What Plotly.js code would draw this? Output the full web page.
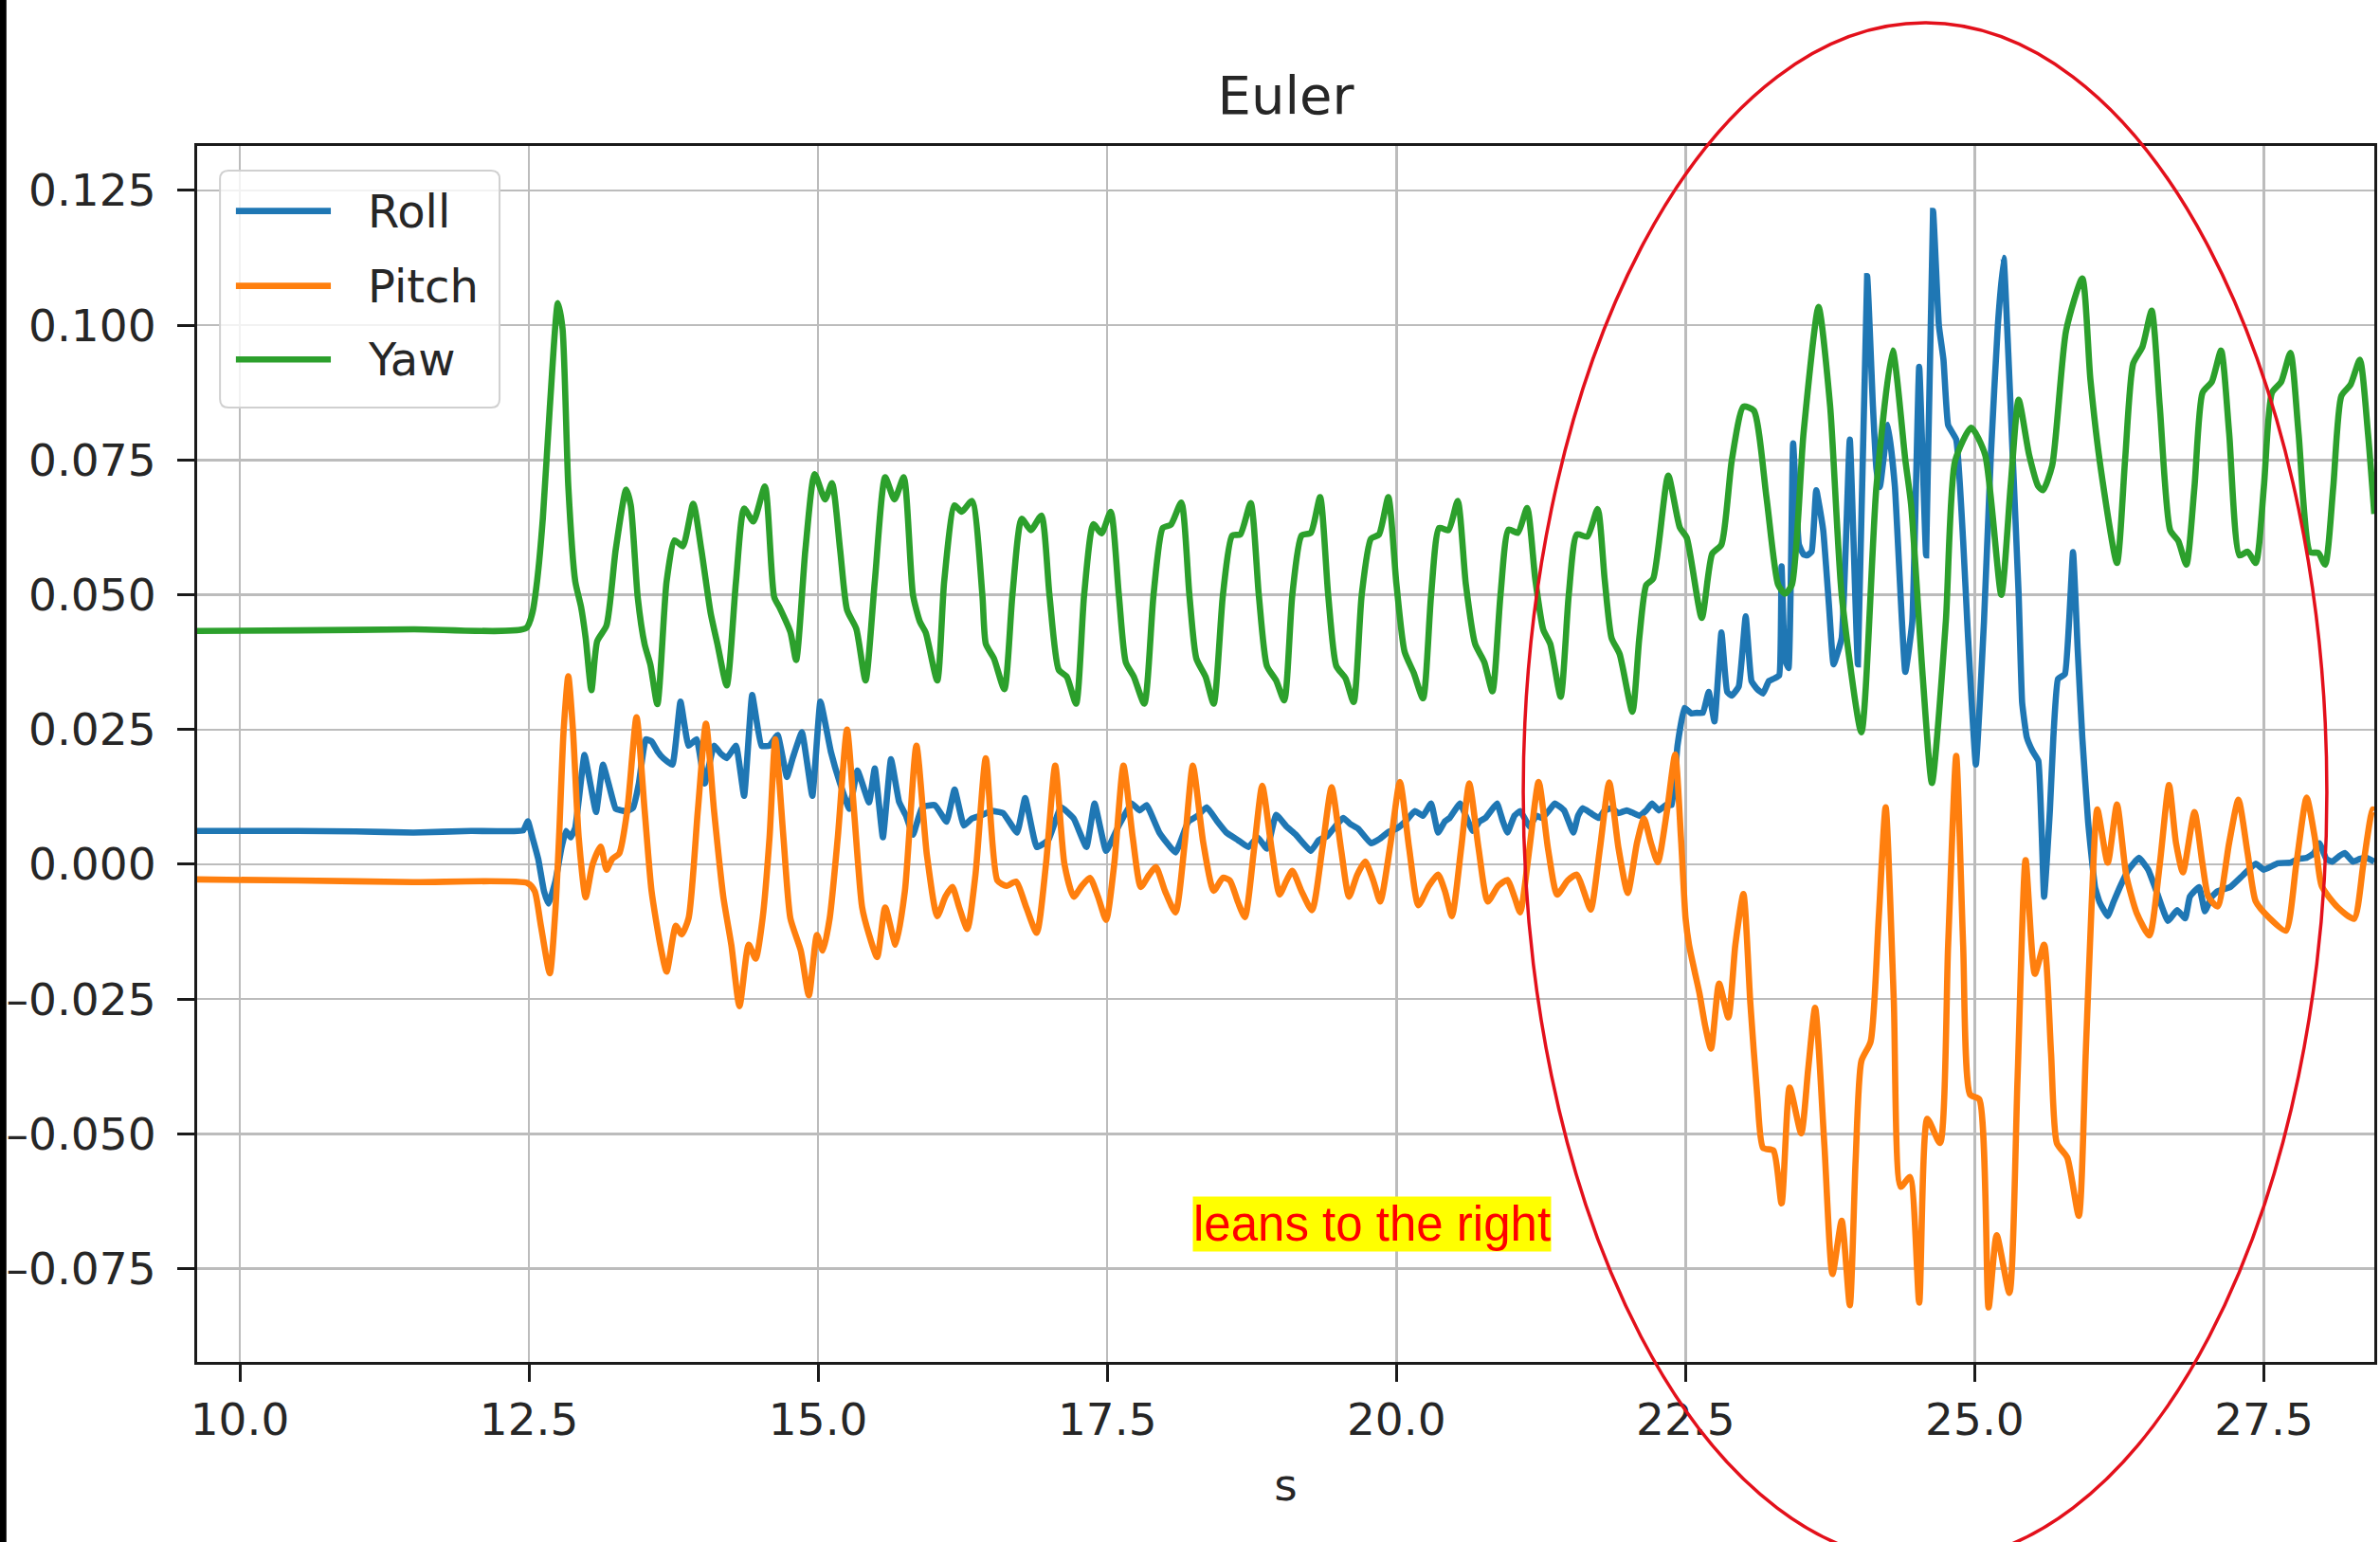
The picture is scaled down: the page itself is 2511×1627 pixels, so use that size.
<!DOCTYPE html>
<html>
<head>
<meta charset="utf-8">
<script src="https://cdn.plot.ly/plotly-3.0.1.min.js"></script>
<style>html,body{margin:0;padding:0;background:#fff;}#chart{width:2511px;height:1627px;}</style>
</head>
<body>
<div id="chart"></div>
<script>
// ---- data: [time (s), value] ----
const seriesNames = ["Roll", "Pitch", "Yaw"];
const seriesColors = ["#1f77b4", "#ff7f0e", "#2ca02c"];

const roll = [
[9.63,0.0062],[10.5,0.0062],[11.0,0.0061],[11.5,0.0059],[12.0,0.0062],[12.45,0.0063],[12.49,0.0080],[12.53,0.0050],
[12.58,0.0010],[12.63,-0.0050],[12.67,-0.0073],[12.73,-0.0030],[12.78,0.0030],[12.82,0.0062],[12.86,0.0050],[12.90,0.0068],
[12.98,0.0203],[13.03,0.0150],[13.08,0.0097],[13.14,0.0185],[13.20,0.0140],[13.25,0.0103],[13.30,0.0100],[13.34,0.0098],
[13.40,0.0105],[13.45,0.0150],[13.51,0.0232],[13.56,0.0228],[13.61,0.0210],[13.66,0.0197],[13.74,0.0185],[13.81,0.0302],
[13.88,0.0220],[13.95,0.0232],[14.02,0.0150],[14.10,0.0220],[14.16,0.0205],[14.21,0.0197],[14.29,0.0220],[14.36,0.0127],
[14.43,0.0314],[14.51,0.0220],[14.58,0.0220],[14.65,0.0240],[14.73,0.0162],[14.78,0.0197],[14.86,0.0245],[14.95,0.0127],
[15.02,0.0302],[15.11,0.0209],[15.19,0.0150],[15.27,0.0103],[15.34,0.0174],[15.44,0.0115],[15.49,0.0178],[15.56,0.0050],
[15.63,0.0195],[15.70,0.0116],[15.76,0.0090],[15.82,0.0055],[15.90,0.0106],[16.01,0.0110],[16.11,0.0079],[16.18,0.0139],
[16.26,0.0072],[16.33,0.0085],[16.40,0.0090],[16.50,0.0099],[16.60,0.0095],[16.72,0.0059],[16.79,0.0123],[16.89,0.0032],
[16.99,0.0045],[17.10,0.0106],[17.21,0.0085],[17.32,0.0032],[17.39,0.0113],[17.49,0.0025],[17.60,0.0072],[17.71,0.0113],
[17.78,0.0100],[17.84,0.0110],[17.95,0.0059],[18.09,0.0022],[18.20,0.0079],[18.28,0.0090],[18.36,0.0106],[18.45,0.0080],
[18.53,0.0059],[18.63,0.0045],[18.72,0.0032],[18.80,0.0050],[18.88,0.0029],[18.96,0.0092],[19.05,0.0070],[19.13,0.0055],
[19.26,0.0025],[19.33,0.0045],[19.40,0.0052],[19.47,0.0070],[19.54,0.0086],[19.60,0.0075],[19.67,0.0066],[19.78,0.0039],
[19.86,0.0048],[19.93,0.0060],[20.00,0.0066],[20.08,0.0080],[20.16,0.0099],[20.23,0.0090],[20.30,0.0113],[20.36,0.0059],
[20.42,0.0080],[20.46,0.0086],[20.55,0.0113],[20.60,0.0090],[20.66,0.0062],[20.72,0.0080],[20.77,0.0086],[20.82,0.0100],
[20.87,0.0113],[20.92,0.0080],[20.96,0.0059],[21.02,0.0090],[21.07,0.0099],[21.11,0.0085],[21.15,0.0070],[21.21,0.0090],
[21.26,0.0086],[21.32,0.0100],[21.37,0.0113],[21.45,0.0100],[21.53,0.0059],[21.57,0.0090],[21.61,0.0104],[21.68,0.0095],
[21.75,0.0086],[21.80,0.0100],[21.86,0.0104],[21.92,0.0095],[21.99,0.0100],[22.05,0.0095],[22.10,0.0090],[22.16,0.0100],
[22.21,0.0113],[22.27,0.0100],[22.33,0.0110],[22.38,0.0110],[22.43,0.0220],[22.49,0.0290],[22.55,0.0280],[22.60,0.0281],
[22.65,0.0281],[22.70,0.0320],[22.75,0.0265],[22.81,0.0430],[22.86,0.0320],[22.90,0.0313],[22.96,0.0330],[23.02,0.0460],
[23.07,0.0340],[23.12,0.0325],[23.17,0.0317],[23.22,0.0340],[23.27,0.0345],[23.31,0.0351],[23.33,0.0553],[23.36,0.0380],
[23.39,0.0364],[23.43,0.0781],[23.48,0.0593],[23.52,0.0575],[23.55,0.0573],[23.59,0.0580],[23.63,0.0694],[23.69,0.0620],
[23.74,0.0480],[23.78,0.0371],[23.85,0.0420],[23.92,0.0788],[23.99,0.0371],[24.07,0.1091],[24.12,0.0850],[24.15,0.0734],
[24.18,0.0700],[24.25,0.0815],[24.31,0.0700],[24.40,0.0357],[24.46,0.0450],[24.52,0.0923],[24.58,0.0573],[24.64,0.1212],
[24.69,0.1000],[24.73,0.0936],[24.77,0.0815],[24.84,0.0788],[24.90,0.0600],[24.94,0.0431],[25.01,0.0185],[25.08,0.0450],
[25.14,0.0761],[25.20,0.1000],[25.25,0.1125],[25.29,0.0950],[25.33,0.0750],[25.38,0.0500],[25.41,0.0300],[25.45,0.0236],
[25.50,0.0210],[25.55,0.0192],[25.60,-0.0060],[25.65,0.0100],[25.68,0.0236],[25.72,0.0344],[25.78,0.0353],[25.85,0.0579],
[25.89,0.0400],[25.93,0.0236],[25.98,0.0080],[26.04,-0.0042],[26.08,-0.0070],[26.15,-0.0096],[26.20,-0.0070],[26.26,-0.0040],
[26.33,-0.0010],[26.42,0.0012],[26.50,-0.0010],[26.58,-0.0055],[26.67,-0.0105],[26.75,-0.0085],[26.82,-0.0100],[26.86,-0.0060],
[26.94,-0.0042],[26.99,-0.0087],[27.05,-0.0060],[27.10,-0.0050],[27.21,-0.0042],[27.32,-0.0020],[27.43,0.0001],[27.50,-0.0010],
[27.62,0.0002],[27.73,0.0003],[27.80,0.0010],[27.87,0.0012],[27.93,0.0020],[27.98,0.0039],[28.04,0.0010],[28.09,0.0005],
[28.15,0.0015],[28.20,0.0021],[28.27,0.0005],[28.33,0.0010],[28.39,0.0012],[28.455,0.0005]
];

const pitch = [
[9.63,-0.0028],[10.5,-0.0030],[11.5,-0.0033],[12.49,-0.0035],[12.55,-0.0050],[12.60,-0.0110],[12.68,-0.0202],[12.73,-0.0080],
[12.76,0.0050],[12.80,0.0250],[12.84,0.0349],[12.88,0.0250],[12.93,0.0050],[12.99,-0.0061],[13.05,0.0000],[13.12,0.0033],
[13.17,-0.0010],[13.22,0.0010],[13.28,0.0020],[13.35,0.0100],[13.43,0.0273],[13.50,0.0100],[13.56,-0.0050],[13.64,-0.0155],
[13.69,-0.0199],[13.77,-0.0114],[13.82,-0.0130],[13.88,-0.0100],[13.96,0.0100],[14.03,0.0261],[14.10,0.0100],[14.18,-0.0060],
[14.25,-0.0150],[14.32,-0.0263],[14.40,-0.0149],[14.46,-0.0175],[14.52,-0.0100],[14.58,0.0050],[14.63,0.0232],[14.70,0.0050],
[14.76,-0.0100],[14.85,-0.0160],[14.92,-0.0243],[14.99,-0.0131],[15.04,-0.0160],[15.10,-0.0100],[15.17,0.0050],[15.25,0.0250],
[15.31,0.0100],[15.38,-0.0079],[15.44,-0.0130],[15.51,-0.0172],[15.58,-0.0080],[15.67,-0.0149],[15.75,-0.0050],[15.85,0.0220],
[15.94,0.0018],[16.03,-0.0096],[16.10,-0.0060],[16.16,-0.0042],[16.22,-0.0080],[16.29,-0.0120],[16.36,-0.0020],[16.45,0.0197],
[16.55,-0.0030],[16.63,-0.0040],[16.71,-0.0032],[16.80,-0.0080],[16.89,-0.0127],[16.97,0.0000],[17.05,0.0183],[17.13,0.0000],
[17.21,-0.0060],[17.28,-0.0040],[17.35,-0.0025],[17.42,-0.0060],[17.49,-0.0103],[17.56,0.0000],[17.64,0.0183],[17.72,0.0050],
[17.79,-0.0042],[17.86,-0.0020],[17.92,-0.0005],[18.00,-0.0050],[18.09,-0.0089],[18.17,0.0040],[18.24,0.0183],[18.33,0.0040],
[18.42,-0.0049],[18.50,-0.0025],[18.56,-0.0030],[18.63,-0.0070],[18.69,-0.0098],[18.77,0.0030],[18.84,0.0146],[18.92,0.0030],
[18.99,-0.0056],[19.05,-0.0030],[19.10,-0.0012],[19.18,-0.0050],[19.27,-0.0085],[19.36,0.0030],[19.44,0.0143],[19.52,0.0030],
[19.59,-0.0060],[19.66,-0.0020],[19.73,0.0005],[19.80,-0.0030],[19.86,-0.0069],[19.95,0.0040],[20.03,0.0153],[20.11,0.0030],
[20.19,-0.0076],[20.28,-0.0040],[20.36,-0.0019],[20.42,-0.0050],[20.48,-0.0096],[20.56,0.0030],[20.63,0.0150],[20.71,0.0030],
[20.79,-0.0069],[20.88,-0.0040],[20.96,-0.0029],[21.02,-0.0060],[21.07,-0.0089],[21.15,0.0030],[21.23,0.0153],[21.31,0.0030],
[21.39,-0.0056],[21.48,-0.0030],[21.56,-0.0019],[21.62,-0.0050],[21.68,-0.0084],[21.76,0.0030],[21.84,0.0152],[21.92,0.0030],
[22.00,-0.0053],[22.08,0.0040],[22.14,0.0085],[22.20,0.0040],[22.26,0.0004],[22.34,0.0100],[22.41,0.0204],[22.46,0.0050],
[22.50,-0.0100],[22.53,-0.0149],[22.58,-0.0200],[22.62,-0.0239],[22.67,-0.0300],[22.72,-0.0342],[22.79,-0.0221],[22.87,-0.0284],
[22.93,-0.0150],[23.00,-0.0055],[23.06,-0.0257],[23.12,-0.0430],[23.17,-0.0526],[23.26,-0.0531],[23.33,-0.0629],[23.40,-0.0414],
[23.50,-0.0499],[23.56,-0.0380],[23.62,-0.0266],[23.70,-0.0520],[23.77,-0.0760],[23.85,-0.0661],[23.92,-0.0818],[23.97,-0.0550],
[24.02,-0.0365],[24.10,-0.0329],[24.17,-0.0100],[24.23,0.0106],[24.30,-0.0250],[24.36,-0.0598],[24.44,-0.0580],[24.52,-0.0813],
[24.59,-0.0472],[24.70,-0.0517],[24.77,-0.0150],[24.84,0.0201],[24.90,-0.0150],[24.96,-0.0427],[25.04,-0.0436],[25.12,-0.0822],
[25.19,-0.0688],[25.30,-0.0795],[25.37,-0.0400],[25.44,0.0008],[25.52,-0.0203],[25.60,-0.0149],[25.66,-0.0350],[25.71,-0.0517],
[25.80,-0.0544],[25.90,-0.0652],[25.96,-0.0350],[26.01,-0.0078],[26.06,0.0102],[26.15,0.0003],[26.23,0.0111],[26.31,-0.0020],
[26.40,-0.0090],[26.51,-0.0132],[26.60,0.0000],[26.68,0.0147],[26.74,0.0040],[26.80,-0.0015],[26.90,0.0097],[26.97,0.0000],
[27.02,-0.0060],[27.10,-0.0078],[27.20,0.0040],[27.28,0.0120],[27.36,0.0020],[27.43,-0.0069],[27.55,-0.0100],[27.69,-0.0123],
[27.78,0.0000],[27.87,0.0124],[27.94,0.0050],[28.00,-0.0040],[28.14,-0.0080],[28.28,-0.0101],[28.36,0.0000],[28.44,0.0102],
[28.455,0.0100]
];

const yaw = [
[9.63,0.0433],[10.5,0.0434],[11.5,0.0436],[12.475,0.0438],[12.53,0.0467],[12.57,0.0525],[12.62,0.0642],[12.68,0.0847],
[12.75,0.1041],[12.79,0.0994],[12.84,0.0701],[12.90,0.0525],[12.95,0.0478],[12.99,0.0420],[13.04,0.0323],[13.09,0.0414],
[13.17,0.0443],[13.25,0.0584],[13.34,0.0695],[13.38,0.0666],[13.44,0.0496],[13.50,0.0408],[13.55,0.0370],[13.61,0.0297],
[13.69,0.0525],[13.76,0.0601],[13.83,0.0590],[13.92,0.0669],[13.99,0.0584],[14.07,0.0467],[14.13,0.0408],[14.21,0.0332],
[14.29,0.0525],[14.36,0.0660],[14.44,0.0636],[14.54,0.0701],[14.62,0.0496],[14.67,0.0475],[14.76,0.0431],[14.81,0.0379],
[14.89,0.0584],[14.97,0.0724],[15.06,0.0677],[15.12,0.0707],[15.19,0.0584],[15.25,0.0472],[15.33,0.0437],[15.41,0.0341],
[15.49,0.0525],[15.58,0.0718],[15.66,0.0677],[15.74,0.0718],[15.82,0.0500],[15.88,0.0450],[15.93,0.0430],[16.03,0.0341],
[16.09,0.0525],[16.18,0.0666],[16.24,0.0654],[16.33,0.0674],[16.42,0.0500],[16.45,0.0409],[16.52,0.0382],[16.61,0.0325],
[16.68,0.0500],[16.76,0.0641],[16.84,0.0620],[16.93,0.0647],[17.00,0.0500],[17.08,0.0361],[17.15,0.0348],[17.23,0.0298],
[17.30,0.0500],[17.38,0.0631],[17.45,0.0614],[17.53,0.0654],[17.60,0.0500],[17.66,0.0375],[17.73,0.0348],[17.82,0.0298],
[17.90,0.0500],[17.98,0.0624],[18.05,0.0630],[18.14,0.0671],[18.21,0.0500],[18.27,0.0382],[18.35,0.0348],[18.42,0.0298],
[18.50,0.0500],[18.58,0.0610],[18.65,0.0612],[18.74,0.0670],[18.81,0.0500],[18.88,0.0368],[18.96,0.0341],[19.03,0.0304],
[19.10,0.0500],[19.18,0.0610],[19.26,0.0615],[19.34,0.0681],[19.41,0.0500],[19.48,0.0368],[19.56,0.0345],[19.63,0.0301],
[19.70,0.0500],[19.78,0.0604],[19.85,0.0612],[19.93,0.0681],[20.00,0.0520],[20.07,0.0395],[20.15,0.0355],[20.23,0.0308],
[20.30,0.0500],[20.37,0.0624],[20.45,0.0620],[20.53,0.0674],[20.60,0.0520],[20.68,0.0409],[20.76,0.0375],[20.83,0.0321],
[20.90,0.0500],[20.97,0.0621],[21.05,0.0615],[21.13,0.0661],[21.20,0.0530],[21.27,0.0435],[21.33,0.0409],[21.42,0.0311],
[21.49,0.0500],[21.56,0.0612],[21.65,0.0608],[21.74,0.0659],[21.80,0.0530],[21.86,0.0420],[21.93,0.0390],[22.04,0.0283],
[22.10,0.0420],[22.16,0.0518],[22.22,0.0530],[22.35,0.0721],[22.45,0.0625],[22.51,0.0606],[22.64,0.0457],[22.73,0.0576],
[22.81,0.0593],[22.90,0.0750],[23.00,0.0849],[23.09,0.0842],[23.20,0.0680],[23.30,0.0519],[23.36,0.0502],[23.42,0.0519],
[23.52,0.0800],[23.65,0.1034],[23.75,0.0850],[23.85,0.0500],[24.02,0.0245],[24.15,0.0700],[24.29,0.0953],[24.40,0.0750],
[24.45,0.0667],[24.55,0.0350],[24.63,0.0151],[24.75,0.0450],[24.83,0.0748],[24.97,0.0810],[25.09,0.0760],[25.23,0.0500],
[25.31,0.0700],[25.38,0.0862],[25.47,0.0760],[25.55,0.0701],[25.59,0.0694],[25.67,0.0740],[25.79,0.0990],[25.93,0.1087],
[26.00,0.0900],[26.09,0.0734],[26.23,0.0559],[26.30,0.0750],[26.37,0.0929],[26.45,0.0960],[26.53,0.1027],[26.60,0.0850],
[26.69,0.0620],[26.76,0.0600],[26.83,0.0556],[26.90,0.0700],[26.97,0.0875],[27.05,0.0895],[27.13,0.0953],[27.20,0.0800],
[27.29,0.0573],[27.36,0.0580],[27.43,0.0559],[27.50,0.0700],[27.57,0.0875],[27.65,0.0895],[27.73,0.0949],[27.80,0.0800],
[27.90,0.0579],[27.97,0.0578],[28.03,0.0556],[28.10,0.0700],[28.17,0.0869],[28.25,0.0890],[28.33,0.0936],[28.40,0.0800],
[28.455,0.0650]
];

const xTickVals = [10.0, 12.5, 15.0, 17.5, 20.0, 22.5, 25.0, 27.5];
const yTickVals = [-0.075, -0.050, -0.025, 0.000, 0.025, 0.050, 0.075, 0.100, 0.125];
const titleText = "Euler";
const xTitleText = "s";
const noteText = "leans to the right";
const noteAt = [19.79, -0.0668];

// ---- build ----
const allSeries = [roll, pitch, yaw];
const smoothing = [0.35, 0.6, 0.6];
const LW = 6.6;
const traces = allSeries.map((s, i) => ({
  type: "scatter", mode: "lines", name: seriesNames[i],
  x: s.map(p => p[0]), y: s.map(p => p[1]),
  line: {color: seriesColors[i], width: LW, shape: "spline", smoothing: smoothing[i]},
  showlegend: false, hoverinfo: "skip"
}));

const FONT = "DejaVu Sans, Verdana, sans-serif";
const TXT = "#262626";
const axisCommon = {
  showgrid: true, gridcolor: "#bcbcbc", gridwidth: 2.5,
  showline: true, mirror: true, linecolor: "#1a1a1a", linewidth: 3,
  ticks: "outside", ticklen: 18, tickwidth: 3, tickcolor: "#1a1a1a",
  zeroline: false, automargin: false,
  tickfont: {family: FONT, size: 47, color: TXT}
};

// custom matplotlib-style legend (paper coordinates)
const lgBox = {x0: 0.0105, x1: 0.1389, y0: 0.7849, y1: 0.9797};
const rx = 9 / 2297, ry = 9 / 1283;
const lgPath = `M ${lgBox.x0 + rx},${lgBox.y1} L ${lgBox.x1 - rx},${lgBox.y1} Q ${lgBox.x1},${lgBox.y1} ${lgBox.x1},${lgBox.y1 - ry} ` +
  `L ${lgBox.x1},${lgBox.y0 + ry} Q ${lgBox.x1},${lgBox.y0} ${lgBox.x1 - rx},${lgBox.y0} ` +
  `L ${lgBox.x0 + rx},${lgBox.y0} Q ${lgBox.x0},${lgBox.y0} ${lgBox.x0},${lgBox.y0 + ry} ` +
  `L ${lgBox.x0},${lgBox.y1 - ry} Q ${lgBox.x0},${lgBox.y1} ${lgBox.x0 + rx},${lgBox.y1} Z`;
const lgRows = [0.9465, 0.8849, 0.8244];

const shapes = [
  {type: "path", xref: "paper", yref: "paper", path: lgPath, layer: "above",
   fillcolor: "rgba(255,255,255,0.8)", line: {color: "#d0d0d0", width: 2}},
  ...lgRows.map((y, i) => ({type: "line", xref: "paper", yref: "paper", layer: "above",
    x0: 0.0178, x1: 0.0614, y0: y, y1: y, line: {color: seriesColors[i], width: LW}})),
  // red hand-drawn ellipse
  {type: "circle", xref: "paper", yref: "paper", layer: "above",
   x0: 0.6091, x1: 0.9782, y0: -0.1645, y1: 1.1013,
   line: {color: "#e3101b", width: 3.5}},
  // dark strip on the left edge of the screenshot
  {type: "rect", xref: "paper", yref: "paper", layer: "above",
   x0: -0.0906, x1: -0.0876, y0: -0.2, y1: 1.25, fillcolor: "#000", line: {width: 0}}
];

const annotations = [
  ...seriesNames.map((n, i) => ({xref: "paper", yref: "paper", x: 0.0775, y: lgRows[i],
    xanchor: "left", yanchor: "middle", text: n, showarrow: false,
    font: {family: FONT, size: 48, color: TXT}})),
  {xref: "x", yref: "y", x: noteAt[0], y: noteAt[1], text: noteText, showarrow: false,
   bgcolor: "#ffff00", borderpad: 0, xanchor: "center", yanchor: "middle",
   font: {family: "Liberation Sans, Arial, sans-serif", size: 51, color: "#ff0000"}}
];

const layout = {
  width: 2511, height: 1627,
  margin: {l: 208, r: 6, t: 154, b: 190, pad: 0},
  paper_bgcolor: "#ffffff", plot_bgcolor: "#ffffff",
  showlegend: false,
  title: {text: titleText, x: 0.5, xref: "paper", xanchor: "center",
          y: 1 - 100 / 1627, yref: "container", yanchor: "middle",
          font: {family: FONT, size: 56, color: TXT}},
  xaxis: Object.assign({}, axisCommon, {
    range: [9.631, 28.455], tickmode: "array", tickvals: xTickVals,
    ticktext: xTickVals.map(v => v.toFixed(1)),
    title: {text: xTitleText, font: {family: FONT, size: 47, color: TXT}, standoff: 26}
  }),
  yaxis: Object.assign({}, axisCommon, {
    range: [-0.0923, 0.13326], tickmode: "array", tickvals: yTickVals,
    ticktext: yTickVals.map(v => (v < 0 ? "\u2013" : "") + Math.abs(v).toFixed(3)),
    ticklabelstandoff: 13
  }),
  shapes: shapes,
  annotations: annotations
};

Plotly.newPlot("chart", traces, layout, {staticPlot: true, displayModeBar: false});
</script>
</body>
</html>
